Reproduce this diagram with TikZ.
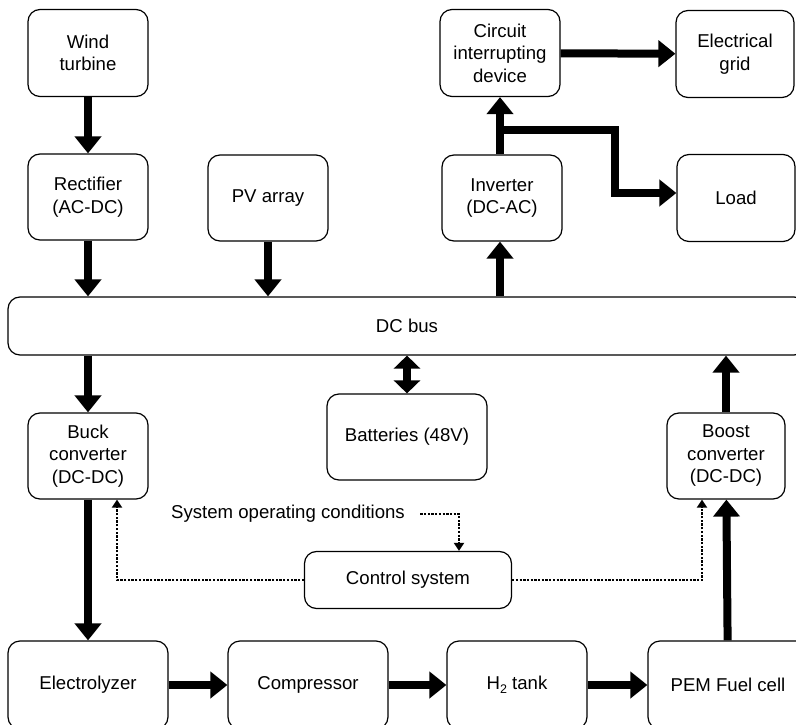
\documentclass[tikz,border=0pt]{standalone}
\usepackage{fontspec}
\setmainfont{Liberation Sans}
\usetikzlibrary{arrows.meta, positioning}

\tikzset{
  block/.style={draw, line width=1.2pt, rounded corners=12pt, align=center,
    minimum width=120pt, minimum height=87pt, font=\fontsize{18.6}{22.5}\selectfont},
  flow/.style={line width=8pt, -{Triangle[length=17pt,width=26pt]}},
  sig/.style={line width=2.3pt, dash pattern=on 2.3pt off 1.4pt,
    -{Triangle[length=8pt,width=10pt]}}
}

\begin{document}
\begin{tikzpicture}[x=1pt, y=-1pt]
    \clip (0,0) rectangle (796,725);

    % Quelle und Netz
    \node[block] (wind) at (88,53) {Wind\\turbine};
    \node[block, minimum height=86pt] (rect) at (88,197) {Rectifier\\(AC-DC)};
    \node[block, minimum height=86pt] (pv) at (268,198) {PV array};
    \node[block] (cid) at (500,53) {Circuit\\interrupting\\device};
    \node[block, minimum width=118pt] (grid) at (735,54) {Electrical\\grid};
    \node[block, minimum height=86pt] (inv) at (502,198) {Inverter\\(DC-AC)};
    \node[block, minimum width=118pt] (load) at (736,198) {Load};

    % Bus und Wandler
    \node[block, minimum width=798pt, minimum height=58pt] (bus) at (407,326) {DC bus};
    \node[block, minimum height=86pt] (buck) at (88,456) {Buck\\converter\\(DC-DC)};
    \node[block, minimum width=160pt, minimum height=86pt] (bat) at (407,437) {Batteries (48V)};
    \node[block, minimum width=118pt, minimum height=86pt] (boost) at (726,456) {Boost\\converter\\(DC-DC)};
    \node[block, minimum width=207pt, minimum height=57pt] (ctrl) at (408,580) {Control system};
    \node[font=\fontsize{18.6}{22.5}\selectfont] (cond) at (288,514) {System operating conditions};

    % Wasserstoffkette
    \node[block, minimum width=160pt, minimum height=88pt] (elec) at (88,685) {Electrolyzer};
    \node[block, minimum width=160pt, minimum height=88pt] (comp) at (308,685) {Compressor};
    \node[block, minimum width=140pt, minimum height=88pt] (tank) at (517,685)
        {H\raisebox{-0.45ex}{\fontsize{12.5}{13}\selectfont 2} tank};
    \node[block, minimum width=160pt, minimum height=88pt] (pem) at (728,685) {PEM Fuel cell};

    \coordinate (split) at (500,130);
    \coordinate (bend) at (615,193);

    % Leistungsfluss
    \draw[flow] (wind) -- (rect);
    \draw[flow] (rect) -- (rect |- bus.north);
    \draw[flow] (pv) -- (pv |- bus.north);
    \draw[flow] (bus.north -| split) -- (split |- inv.south);
    \draw[flow] (split |- inv.north) -- (split |- cid.south);
    \draw[flow] (split) -| (bend) -- (bend -| load.west);
    \draw[flow] (cid) -- (grid);
    \draw[flow] (bus.south -| buck) -- (buck);
    \draw[line width=8pt, {Triangle[length=13pt,width=26pt]}-{Triangle[length=13pt,width=26pt]}]
        (bus.south -| bat) -- (bat);
    \draw[flow] (boost) -- (boost |- bus.south);
    \draw[flow] (buck) -- (elec);
    \draw[flow] (elec) -- (comp);
    \draw[flow] (comp) -- (tank);
    \draw[flow] (tank) -- (pem);
    \draw[flow] (pem) -- (boost);

    % Steuersignale
    \draw[sig] (ctrl.west) -| ([xshift=29pt]buck.south);
    \draw[sig] (ctrl.east) -| ([xshift=-24pt]boost.south);
    \draw[sig] ([xshift=12pt]cond.east) -| ([xshift=51pt]ctrl.north);
\end{tikzpicture}
\end{document}
